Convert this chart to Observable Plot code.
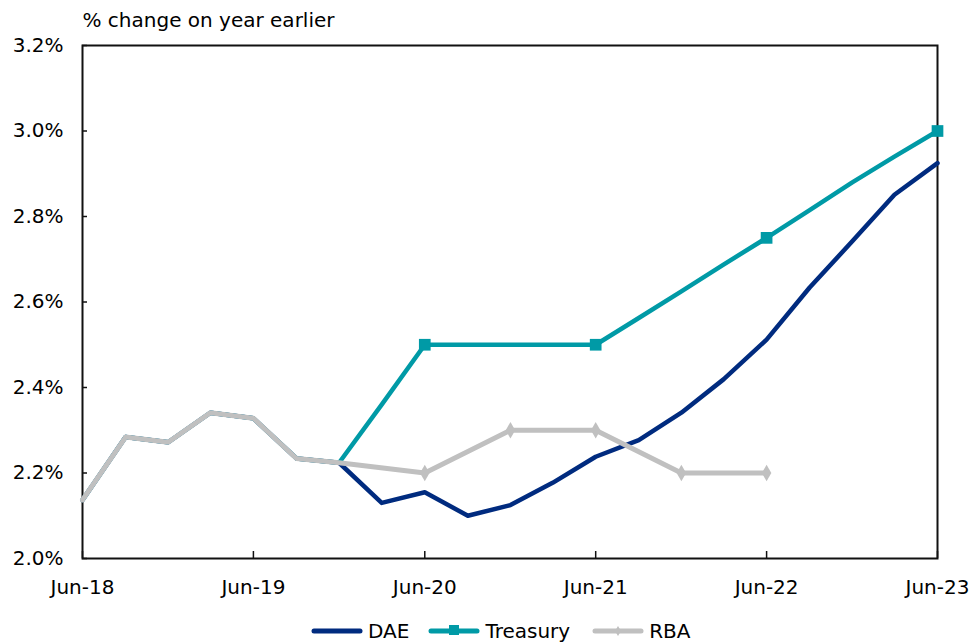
<!DOCTYPE html>
<html><head><meta charset="utf-8">
<script src="https://cdn.jsdelivr.net/npm/d3@7"></script>
<script src="https://cdn.jsdelivr.net/npm/@observablehq/plot@0.6"></script>
<style>
body{margin:0;background:#fff;font-family:"DejaVu Sans",Verdana,sans-serif;}
#wrap{position:relative;width:973px;height:643px;overflow:hidden;background:#fff}
#legend{position:absolute;left:311px;top:619px;display:flex;align-items:center;font-size:20px;line-height:24px;color:#000;white-space:nowrap}
#legend .item{display:flex;align-items:center}
#legend svg{display:block}
</style></head><body><div id="wrap"></div>
<script>
const quarters = ["2018-06","2018-09","2018-12","2019-03","2019-06","2019-09","2019-12","2020-03","2020-06","2020-09","2020-12","2021-03","2021-06","2021-09","2021-12","2022-03","2022-06","2022-09","2022-12","2023-03","2023-06"];
const dae = [2.137,2.284,2.272,2.341,2.328,2.234,2.224,2.130,2.155,2.100,2.125,2.177,2.238,2.277,2.341,2.419,2.512,2.634,2.742,2.851,2.925];
const treasury = [2.137,2.284,2.272,2.341,2.328,2.234,2.224,2.360,2.5,2.5,2.5,2.5,2.5,2.5625,2.625,2.6875,2.75,2.815,2.88,2.94,3.0];
const rba = [2.137,2.284,2.272,2.341,2.328,2.234,2.224,null,2.2,null,2.3,null,2.3,null,2.2,null,2.2,null,null,null,null];
const treasuryMarkers = ["2020-06","2021-06","2022-06","2023-06"];
const rbaMarkers = ["2020-06","2020-12","2021-06","2021-12","2022-06"];
const yTicks = [2.0,2.2,2.4,2.6,2.8,3.0,3.2];
const xTicks = ["2018-06","2019-06","2020-06","2021-06","2022-06","2023-06"];
const seriesNames = ["DAE","Treasury","RBA"];
const colors = ["#002B7F","#009AA6","#C0C0C0"];
const yLabel = "% change on year earlier";

const parse = d3.utcParse("%Y-%m");
const mk = (vals) => quarters.map((q,i)=>({date:parse(q), v:vals[i]})).filter(d=>d.v!=null);
const daeData = mk(dae), trData = mk(treasury), rbaData = mk(rba);
const trMk = trData.filter(d=>treasuryMarkers.includes(d3.utcFormat("%Y-%m")(d.date)));
const rbaMk = rbaData.filter(d=>rbaMarkers.includes(d3.utcFormat("%Y-%m")(d.date)));

const chart = Plot.plot({
  width: 973, height: 605,
  marginTop: 45, marginBottom: 47, marginLeft: 82, marginRight: 36,
  style: {fontFamily: '"DejaVu Sans", Verdana, sans-serif', fontSize: "20px", color: "#000", background: "#fff", overflow: "visible"},
  x: {type: "utc", domain: [parse(quarters[0]), parse(quarters[quarters.length-1])]},
  y: {domain: [2.0, 3.2]},
  marks: [
    Plot.frame({stroke: "#111", strokeWidth: 2}),
    Plot.axisY(yTicks, {tickSize: -5, tickPadding: 24, strokeWidth: 1.5, stroke: "#111", tickFormat: d => d.toFixed(1) + "%", label: null}),
    Plot.axisX(xTicks.map(parse), {tickSize: -7, tickPadding: 28, strokeWidth: 1.5, stroke: "#111", tickFormat: d3.utcFormat("%b-%y"), label: null}),
    Plot.line(daeData, {x: "date", y: "v", stroke: colors[0], strokeWidth: 4.5}),
    Plot.line(trData, {x: "date", y: "v", stroke: colors[1], strokeWidth: 4.5}),
    Plot.dot(trMk, {x: "date", y: "v", symbol: "square", r: 6.6, fill: colors[1]}),
    Plot.line(rbaData, {x: "date", y: "v", stroke: colors[2], strokeWidth: 5}),
    Plot.dot(rbaMk, {x: "date", y: "v", symbol: "diamond", r: 5, fill: colors[2]}),
    Plot.text([yLabel], {frameAnchor: "top-left", text: d => d, dy: -25, textAnchor: "start", lineAnchor: "middle", fill: "#000"})
  ]
});
const wrap = document.getElementById("wrap");
wrap.appendChild(chart);

const legend = document.createElement("div");
legend.id = "legend";
const markerFor = ["", "square", "diamond"];
const gaps = [19, 22, 0];
seriesNames.forEach((name, i) => {
  const item = document.createElement("div");
  item.className = "item";
  item.style.marginRight = gaps[i] + "px";
  let inner = `<line x1="3" y1="8" x2="49" y2="8" stroke="${colors[i]}" stroke-width="5" stroke-linecap="round"/>`;
  if (markerFor[i] === "square") inner += `<rect x="21" y="2" width="10" height="10" fill="${colors[i]}"/>`;
  if (markerFor[i] === "diamond") inner += `<path d="M26,3 L29,8 L26,13 L23,8 Z" fill="${colors[i]}"/>`;
  item.innerHTML = `<svg width="52" height="16">${inner}</svg><span style="margin-left:5px">${name}</span>`;
  legend.appendChild(item);
});
wrap.appendChild(legend);
</script>
</body></html>
